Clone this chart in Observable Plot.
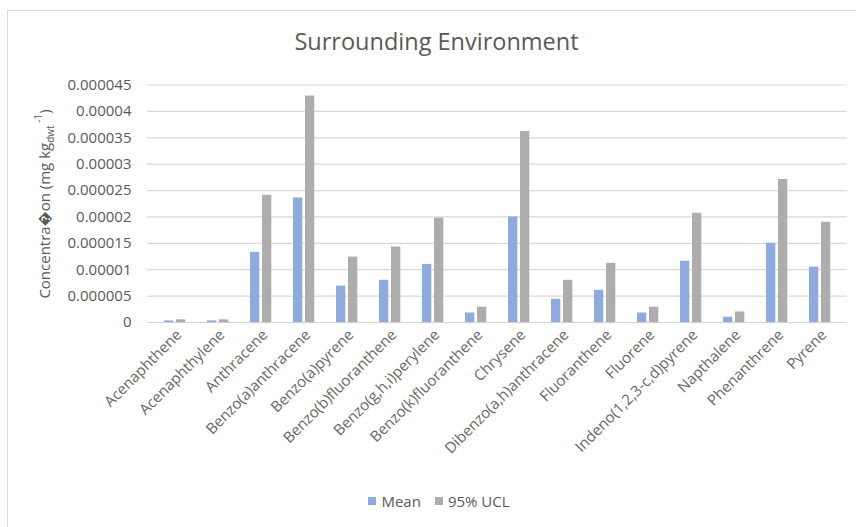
<!DOCTYPE html>
<html><head><meta charset="utf-8">
<script src="https://cdn.jsdelivr.net/npm/d3@7"></script>
<script src="https://cdn.jsdelivr.net/npm/@observablehq/plot@0.6"></script>
<style>
body{margin:0;background:#fff;font-family:"Open Sans",sans-serif;}
#wrap{position:relative;width:856px;height:527px;overflow:hidden;background:#fff;}
#border{position:absolute;left:7px;top:10px;width:870px;height:540px;border:1px solid #d9d9d9;box-sizing:border-box;}
#title{position:absolute;left:0;width:873px;top:25px;text-align:center;font-size:23.5px;color:#595959;white-space:nowrap;}
#chart{position:absolute;left:0;top:0;}
#legend{position:absolute;left:0;width:878px;top:491px;display:flex;justify-content:center;gap:14px;font-size:15px;color:#595959;}
#legend .item{display:flex;align-items:center;gap:5px;}
#legend .sw{width:8px;height:8px;display:inline-block;}
</style>
</head><body>
<div id="wrap">
  <div id="border"></div>
  <div id="title">Surrounding Environment</div>
  <div id="chart"></div>
  <div id="legend"></div>
</div>
<script>
const categories = ["Acenaphthene","Acenaphthylene","Anthracene","Benzo(a)anthracene","Benzo(a)pyrene","Benzo(b)fluoranthene","Benzo(g,h,i)perylene","Benzo(k)fluoranthene","Chrysene","Dibenzo(a,h)anthracene","Fluoranthene","Fluorene","Indeno(1,2,3-c,d)pyrene","Napthalene","Phenanthrene","Pyrene"];
const seriesNames = ["Mean","95% UCL"];
const meanValues = [0.3e-6,0.3e-6,13.3e-6,23.6e-6,6.9e-6,8.0e-6,11.0e-6,1.8e-6,20.0e-6,4.4e-6,6.1e-6,1.8e-6,11.6e-6,1.0e-6,15.0e-6,10.5e-6];
const uclValues = [0.5e-6,0.5e-6,24.1e-6,42.9e-6,12.4e-6,14.3e-6,19.8e-6,2.9e-6,36.2e-6,8.0e-6,11.2e-6,2.9e-6,20.7e-6,2.0e-6,27.1e-6,19.0e-6];
const yTicks = [0,0.000005,0.00001,0.000015,0.00002,0.000025,0.00003,0.000035,0.00004,0.000045];
const colors = ["#8faadc","#adadad"];

const meanData = categories.map((c,i)=>({category:c, series:seriesNames[0], value:meanValues[i]}));
const uclData = categories.map((c,i)=>({category:c, series:seriesNames[1], value:uclValues[i]}));
const fmt = d => String(+(+d).toFixed(6));

const chart = Plot.plot({
  width:856, height:527,
  marginLeft:147, marginRight:9.3, marginTop:84.5, marginBottom:205,
  style:{fontFamily:"Open Sans, sans-serif", fontSize:"15px", color:"#595959", background:"transparent", overflow:"visible"},
  x:{domain:categories, padding:0, label:null},
  y:{domain:[0,0.000045], label:null},
  color:{domain:seriesNames, range:colors},
  marks:[
    Plot.gridY(yTicks,{stroke:"#d9d9d9", strokeOpacity:1, strokeWidth:1.2}),
    Plot.ruleY([0],{stroke:"#d0d0d0", strokeWidth:1.2}),
    Plot.barY(meanData,{x:"category", y:"value", fill:"series", insetLeft:11, insetRight:22.7}),
    Plot.barY(uclData,{x:"category", y:"value", fill:"series", insetLeft:23, insetRight:10.7}),
    Plot.axisY(yTicks,{tickSize:0, tickPadding:16, tickFormat:fmt, fill:"#595959", fontSize:15, label:null}),
    Plot.axisX({anchor:"bottom", tickRotate:-45, tickSize:0, tickPadding:10, fill:"#666666", fontSize:15, label:null, dx:4})
  ]
});
document.getElementById("chart").appendChild(chart);

// y-axis label with subscript / superscript
const svg = d3.select(chart);
const lab = svg.append("text")
  .attr("transform","translate(50,204) rotate(-90)")
  .attr("text-anchor","middle")
  .attr("fill","#595959")
  .style("font-size","15px")
  .style("font-family","Open Sans, sans-serif");
lab.append("tspan").text("Concentra\uFFFDon (mg kg");
lab.append("tspan").attr("dy","4").style("font-size","10px").text("dwt");
lab.append("tspan").attr("dy","-12").style("font-size","10px").text(" -1");
lab.append("tspan").attr("dy","8").text(")");

// legend
const legend = d3.select("#legend");
seriesNames.forEach((s,i)=>{
  const it = legend.append("div").attr("class","item");
  it.append("span").attr("class","sw").style("background",colors[i]);
  it.append("span").text(s);
});
</script>
</body></html>
